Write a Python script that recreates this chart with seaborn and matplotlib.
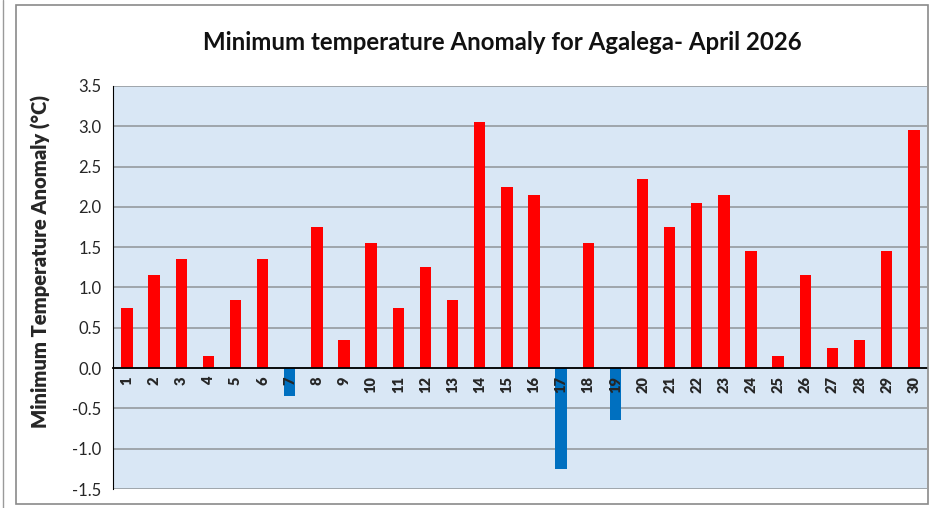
import numpy as np
import pandas as pd
import seaborn as sns
import matplotlib.pyplot as plt
from matplotlib.patches import Rectangle
from matplotlib.ticker import MultipleLocator, FixedLocator

# Daily minimum temperature anomaly, April 2026 (deg C)
days = [str(d) for d in range(1, 31)]
anomaly = [0.75, 1.15, 1.35, 0.15, 0.85, 1.35, -0.35, 1.75, 0.35, 1.55,
           0.75, 1.25, 0.85, 3.05, 2.25, 2.15, -1.25, 1.55, -0.65, 2.35,
           1.75, 2.05, 2.15, 1.45, 0.15, 1.15, 0.25, 0.35, 1.45, 2.95]

df = pd.DataFrame({'day': days, 'anomaly': anomaly})
colors = ['#ff0000' if v >= 0 else '#0070c0' for v in anomaly]

sns.set_style('white')
plt.rcParams['font.family'] = ['Lato', 'DejaVu Sans']

fig = plt.figure(figsize=(9.3, 5.08), dpi=100)
ax = fig.add_axes([113.4 / 930, 1 - 489 / 508, 814 / 930, 403 / 508])

sns.barplot(data=df, x='day', y='anomaly', hue='day', palette=colors,
            legend=False, width=0.42, saturation=1, linewidth=0, ax=ax)

ax.set_facecolor('#d9e7f5')
ax.set_ylim(-1.5, 3.5)
ax.set_xlim(-0.5, 29.5)
ax.yaxis.set_major_locator(MultipleLocator(0.5))
ax.yaxis.set_major_formatter(plt.FuncFormatter(lambda v, p: f'{v:.1f}'))
ax.grid(axis='y', color='#8f9498', linewidth=1.1)
ax.set_axisbelow(True)
# day labels sit on top of the negative bars
ax.xaxis.set_zorder(5)
ax.spines['bottom'].set_zorder(5)

for s in ['top', 'right']:
    ax.spines[s].set_visible(False)
ax.spines['left'].set_color('black')
ax.spines['bottom'].set_color('black')
ax.spines['bottom'].set_position(('data', 0))
ax.spines['bottom'].set_linewidth(1.3)

# tick marks between categories, labels under each bar
ax.xaxis.set_minor_locator(FixedLocator(np.arange(-0.5, 30, 1)))
ax.tick_params(axis='x', which='major', length=0, pad=6)
ax.tick_params(axis='x', which='minor', length=5, width=1.2, direction='out', color='black')
ax.tick_params(axis='y', length=5, width=1, direction='out', color='black', labelsize=12)
for lab in ax.get_xticklabels():
    lab.set_rotation(90)
    lab.set_fontsize(10.5)
    lab.set_fontweight('heavy')
    lab.set_ha('center')
    lab.set_va('top')

ax.set_xlabel('')
ax.set_ylabel('Minimum Temperature Anomaly (°C)', fontsize=14.5, fontweight='heavy')
ax.yaxis.set_label_coords(-0.077, 0.565)

fig.text(502 / 930, 1 - 42 / 508, 'Minimum temperature Anomaly for Agalega- April 2026',
         ha='center', va='center', fontsize=17.3, fontweight='bold', color='#111111')

# chart frame
fig.patches.append(Rectangle((16 / 930, 1 - 504 / 508), 912 / 930, 499 / 508,
                             transform=fig.transFigure, fill=False,
                             edgecolor='#8a8a8a', linewidth=1.2))
fig.lines.append(plt.Line2D([2.5 / 930, 2.5 / 930], [0, 1], transform=fig.transFigure,
                            color='#9a9a9a', linewidth=1))

fig.savefig('out.png', dpi=100)
